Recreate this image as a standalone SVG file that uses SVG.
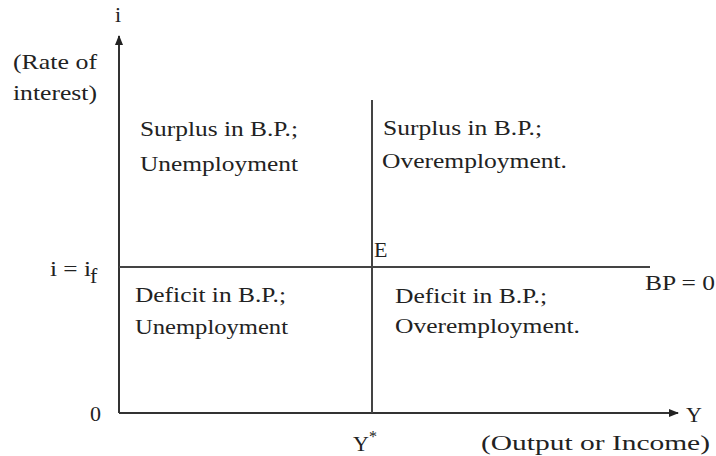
<svg xmlns="http://www.w3.org/2000/svg" width="716" height="456" viewBox="0 0 716 456">
<style>
text{font-family:"Liberation Serif","Times New Roman",serif;font-size:22px;fill:#222}
.ax{stroke:#333;stroke-width:2;fill:none}
.ln{stroke:#444;stroke-width:2;fill:none}
</style>
<defs>
<marker id="ah" markerWidth="10" markerHeight="8" refX="9" refY="4" orient="auto" markerUnits="userSpaceOnUse">
<path d="M0,0 L10,4 L0,8 Z" fill="#222"/>
</marker>
</defs>
<rect width="716" height="456" fill="#fff"/>
<g id="connectors">
<line class="ax" x1="119" y1="413" x2="119" y2="36" marker-end="url(#ah)"/>
<line class="ax" x1="119" y1="413" x2="678" y2="413" marker-end="url(#ah)"/>
<line class="ln" x1="372" y1="100" x2="372" y2="413"/>
<line class="ln" x1="119" y1="267" x2="650" y2="267"/>
</g>
<g id="axis-labels">
<text x="115" y="22">i</text>
<text x="13" y="69" textLength="84" lengthAdjust="spacingAndGlyphs">(Rate of</text>
<text x="13" y="100" textLength="84" lengthAdjust="spacingAndGlyphs">interest)</text>
<text x="50" y="276" textLength="41" lengthAdjust="spacingAndGlyphs">i = i</text><text x="90" y="283" font-size="19">f</text>
<text x="90" y="421">0</text>
<text x="686" y="422">Y</text>
<text x="353" y="451">Y<tspan font-size="16" dy="-9">*</tspan></text>
<text x="481" y="450" textLength="229" lengthAdjust="spacingAndGlyphs">(Output or Income)</text>
<text x="645" y="290" textLength="70" lengthAdjust="spacingAndGlyphs">BP = 0</text>
<text x="374" y="257">E</text>
</g>
<g id="q1">
<text x="140" y="136" textLength="158" lengthAdjust="spacingAndGlyphs">Surplus in B.P.;</text>
<text x="140" y="171" textLength="158" lengthAdjust="spacingAndGlyphs">Unemployment</text>
</g>
<g id="q2">
<text x="383" y="135" textLength="159" lengthAdjust="spacingAndGlyphs">Surplus in B.P.;</text>
<text x="382" y="168" textLength="185" lengthAdjust="spacingAndGlyphs">Overemployment.</text>
</g>
<g id="q3">
<text x="135" y="302" textLength="151" lengthAdjust="spacingAndGlyphs">Deficit in B.P.;</text>
<text x="135" y="334" textLength="153" lengthAdjust="spacingAndGlyphs">Unemployment</text>
</g>
<g id="q4">
<text x="395" y="303" textLength="152" lengthAdjust="spacingAndGlyphs">Deficit in B.P.;</text>
<text x="395" y="333" textLength="185" lengthAdjust="spacingAndGlyphs">Overemployment.</text>
</g>
</svg>
